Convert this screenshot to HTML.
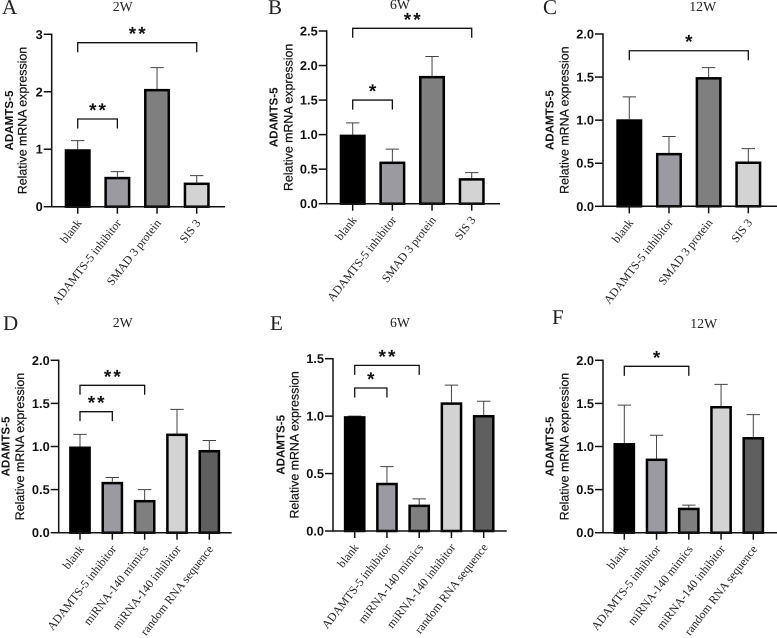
<!DOCTYPE html>
<html lang="en">
<head>
<meta charset="utf-8">
<title>ADAMTS-5 relative mRNA expression</title>
<style>
html,body{margin:0;padding:0;background:#fff;}
svg{display:block;filter:blur(0.3px);text-rendering:geometricPrecision;}
.tick{font:bold 12.8px "Liberation Sans",sans-serif;fill:#111;}
.ya{font:bold 11.6px "Liberation Sans",sans-serif;fill:#111;}
.yb{font:12.4px "Liberation Sans",sans-serif;fill:#111;stroke:#111;stroke-width:.2;}
.cat{font:11.9px "Liberation Serif",serif;fill:#222;}
.ttl{font:13.8px "Liberation Serif",serif;fill:#222;}
.let{font:21px "Liberation Serif",serif;fill:#222;}
.star{font:bold 19px "Liberation Sans",sans-serif;fill:#111;letter-spacing:2px;}
</style>
</head>
<body>
<svg id="fig" width="777" height="638" viewBox="0 0 777 638" xmlns="http://www.w3.org/2000/svg"></svg>
<script>
// Categories
const catsTop = ['blank', 'ADAMTS-5 inhibitor', 'SMAD 3 protein', 'SIS 3'];
const catsBottom = ['blank', 'ADAMTS-5 inhibitor', 'miRNA-140 mimics', 'miRNA-140 inhibitor', 'random RNA sequence'];

// Bar means
const valuesA = [1.0, 0.52, 2.05, 0.42];
const valuesB = [1.0, 0.61, 1.85, 0.37];
const valuesC = [1.01, 0.62, 1.5, 0.52];
const valuesD = [1.0, 0.59, 0.38, 1.15, 0.96];
const valuesE = [1.0, 0.42, 0.23, 1.12, 1.01];
const valuesF = [1.04, 0.86, 0.29, 1.47, 1.11];

// Upper error limits
const upperA = [1.15, 0.61, 2.42, 0.54];
const upperB = [1.17, 0.79, 2.13, 0.45];
const upperC = [1.27, 0.81, 1.61, 0.67];
const upperD = [1.14, 0.64, 0.5, 1.43, 1.07];
const upperE = [1.0, 0.56, 0.28, 1.27, 1.13];
const upperF = [1.48, 1.13, 0.32, 1.72, 1.37];

// Tick labels
const ticksA = ['0', '1', '2', '3'];
const ticksB = ['0.0', '0.5', '1.0', '1.5', '2.0', '2.5'];
const ticksC = ['0.0', '0.5', '1.0', '1.5', '2.0'];
const ticksD = ['0.0', '0.5', '1.0', '1.5', '2.0'];
const ticksE = ['0.0', '0.5', '1.0', '1.5'];
const ticksF = ['0.0', '0.5', '1.0', '1.5', '2.0'];

// Significance: [first category, last category, level on value axis, label]
const sigA = [[0, 3, 2.854, '**'], [0, 1, 1.526, '**']];
const sigB = [[0, 3, 2.539, '**'], [0, 1, 1.5, '*']];
const sigC = [[0, 3, 1.806, '*']];
const sigD = [[0, 2, 1.71, '**'], [0, 1, 1.404, '**']];
const sigE = [[0, 2, 1.442, '**'], [0, 1, 1.245, '*']];
const sigF = [[0, 2, 1.93, '*']];

const fills = ['#000000', '#9b9aa0', '#7f7f7f', '#d3d3d3', '#5f5f5f'];
const fillsTop = ['#000000', '#9b9aa0', '#7f7f7f', '#d3d3d3'];

const panels = [
  {id:'a', letter:'A', lx:2, ly:14, week:'2W', wx:122.7, wy:11, cats:catsTop, vals:valuesA, up:upperA, ticks:ticksA, sig:sigA, fl:fillsTop,
   ax:51.7, y0:206.7, yT:34.3, xEnd:225, first:26, step:39.67, bw:26, gap1:25, gap2:38.7},
  {id:'b', letter:'B', lx:268, ly:14, week:'6W', wx:400, wy:9, cats:catsTop, vals:valuesB, up:upperB, ticks:ticksB, sig:sigB, fl:fillsTop,
   ax:326.7, y0:203.7, yT:31, xEnd:500, first:26, step:39.67, bw:26, gap1:34.4, gap2:49.4},
  {id:'c', letter:'C', lx:543, ly:14, week:'12W', wx:702.7, wy:11, cats:catsTop, vals:valuesC, up:upperC, ticks:ticksC, sig:sigC, fl:fillsTop,
   ax:603, y0:206.3, yT:34, xEnd:777, first:26.3, step:39.67, bw:26, gap1:34.3, gap2:49.3},
  {id:'d', letter:'D', lx:3, ly:330, week:'2W', wx:122.7, wy:327, cats:catsBottom, vals:valuesD, up:upperD, ticks:ticksD, sig:sigD, fl:fills,
   ax:58.7, y0:532.7, yT:360.3, xEnd:231.7, first:21.3, step:32.33, bw:21.7, gap1:34.7, gap2:49.4},
  {id:'e', letter:'E', lx:270, ly:330, week:'6W', wx:400, wy:327, cats:catsBottom, vals:valuesE, up:upperE, ticks:ticksE, sig:sigE, fl:fills,
   ax:333, y0:531, yT:358.7, xEnd:506.7, first:21.7, step:32.25, bw:21.7, gap1:34.7, gap2:48.7},
  {id:'f', letter:'F', lx:552, ly:324, week:'12W', wx:703.7, wy:328, cats:catsBottom, vals:valuesF, up:upperF, ticks:ticksF, sig:sigF, fl:fills,
   ax:603, y0:532.7, yT:360.3, xEnd:777, first:21.3, step:32.25, bw:21.7, gap1:34.3, gap2:49.3}
];

const SVG_NS = 'http://www.w3.org/2000/svg';
const root = document.getElementById('fig');

function mk(parent, tag, attrs, txt) {
  const n = document.createElementNS(SVG_NS, tag);
  for (const k in attrs) n.setAttribute(k, attrs[k]);
  if (txt !== undefined) n.textContent = txt;
  parent.appendChild(n);
  return n;
}

panels.forEach(function (p) {
  const g = mk(root, 'g', {});
  
  

  const maxV = parseFloat(p.ticks[p.ticks.length - 1]);
  const yScale = function (v) { return p.y0 - (v / maxV) * (p.y0 - p.yT); };
  const xScale = function (i) { return p.ax + p.first + i * p.step; };

  const letter = mk(g, 'text', {x: p.lx, y: p.ly, class: 'let'}, p.letter);
  
  

  const week = mk(g, 'text', {x: p.wx, y: p.wy, class: 'ttl', 'text-anchor': 'middle'}, p.week);
  
  

  // bars and error bars
  p.vals.forEach(function (v, i) {
    const cx = xScale(i);
    const sw = 2.5;
    const ey = yScale(p.up[i]);
    const top = yScale(v);
    const err = mk(g, 'path', {d: 'M' + cx + ' ' + top + 'V' + ey + 'M' + (cx - 6.7) + ' ' + ey + 'H' + (cx + 6.7), fill: 'none', stroke: '#444', 'stroke-width': 1});
    
    
    const bar = mk(g, 'rect', {x: cx - p.bw / 2 + sw / 2, y: top + sw / 2, width: p.bw - sw, height: Math.max(0, p.y0 - top - sw / 2), fill: p.fl[i], stroke: '#000', 'stroke-width': sw});
    
    

    const tk = mk(g, 'line', {x1: cx, x2: cx, y1: p.y0, y2: p.y0 + 7, stroke: '#111', 'stroke-width': 1.5});
    
    

    const ax = cx + 4.5;
    const ay = p.y0 + 16.5;
    const lbl = mk(g, 'text', {x: ax, y: ay, class: 'cat', 'text-anchor': 'end', transform: 'rotate(-52 ' + ax + ' ' + ay + ')'}, p.cats[i]);
    
    
  });

  // axes
  const yAxis = mk(g, 'line', {x1: p.ax, x2: p.ax, y1: p.yT - 0.7, y2: p.y0 + 0.7, stroke: '#111', 'stroke-width': 1.5});
  
  
  const xAxis = mk(g, 'line', {x1: p.ax - 0.7, x2: p.xEnd, y1: p.y0, y2: p.y0, stroke: '#111', 'stroke-width': 1.5});
  
  

  p.ticks.forEach(function (t) {
    const y = yScale(parseFloat(t));
    const tk = mk(g, 'line', {x1: p.ax - 8, x2: p.ax, y1: y, y2: y, stroke: '#111', 'stroke-width': 1.5});
    
    
    const lb = mk(g, 'text', {x: p.ax - 9, y: y + 4.5, class: 'tick', 'text-anchor': 'end'}, t);
    
    
  });

  // y axis titles
  const midY = (p.yT + p.y0) / 2;
  const bx = p.ax - p.gap1;
  const ya = mk(g, 'text', {x: bx, y: midY, class: 'yb', 'text-anchor': 'middle', transform: 'rotate(-90 ' + bx + ' ' + midY + ')'}, 'Relative mRNA expression');
  
  
  const cx2 = p.ax - p.gap2;
  const yb = mk(g, 'text', {x: cx2, y: midY, class: 'ya', 'text-anchor': 'middle', transform: 'rotate(-90 ' + cx2 + ' ' + midY + ')'}, 'ADAMTS-5');
  
  

  // significance brackets
  p.sig.forEach(function (s) {
    const x1 = xScale(s[0]);
    const x2 = xScale(s[1]);
    const y = yScale(s[2]);
    const br = mk(g, 'path', {d: 'M' + x1 + ' ' + (y + 9.5) + 'V' + y + 'H' + x2 + 'V' + (y + 9.5), fill: 'none', stroke: '#111', 'stroke-width': 1.3});
    
    
    const st = mk(g, 'text', {x: (x1 + x2) / 2 + 1, y: y - 2.5, class: 'star', 'text-anchor': 'middle'}, s[3]);
    
    
  });
});
</script>
</body>
</html>
